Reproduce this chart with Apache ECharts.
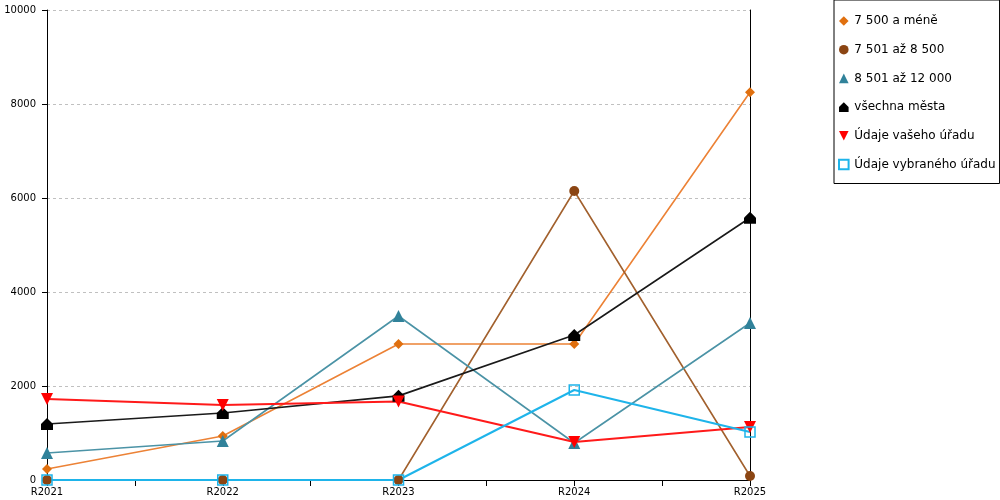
<!DOCTYPE html>
<html lang="cs">
<head>
  <meta charset="UTF-8">
  <script src="https://cdn.jsdelivr.net/npm/echarts@6/dist/echarts.min.js"></script>
  <title>Graf</title>
</head>
<body>
  <div id="chart"></div>
</body>
<style>
  html,body{
    padding: 0;
    margin: 0;
    height: 100vh;
    width: 100vw;
    background: #fff;
  }
  #chart {
    height: 500px;
    width: 1000px;
  }
</style>
</html>
<script>
const years = ['R2021', 'R2022', 'R2023', 'R2024', 'R2025']

const mene7500 = [234, 936, 2894, 2894, 8250]
const od7501 = [0, 0, 0, 6149, 85]
const od8501 = [574, 830, 3489, 787, 3340]
const vsechna = [1191, 1425, 1790, 3085, 5580]
const vasUrad = [1723, 1596, 1670, 809, 1128]
const vybranyUrad = [0, 0, 0, 1915, 1021]

const toPoints = arr => arr.map((v, i) => [i, v])

const house = 'path://M5,0 L10,5 L10,10 L0,10 L0,5 Z'

const option = {
  animation: false,
  textStyle: { fontFamily: 'DejaVu Sans' },
  grid: { left: 47, right: 250, top: 10, bottom: 20 },
  legend: {
    orient: 'vertical',
    left: 834,
    top: 0,
    padding: [15, 4, 13, 4],
    itemGap: 16.7,
    itemWidth: 11,
    itemHeight: 12,
    borderColor: '#000',
    borderWidth: 1,
    lineStyle: { width: 0, opacity: 0 },
    textStyle: { fontSize: 12, color: '#000', fontFamily: 'DejaVu Sans' },
    data: ['7 500 a méně', '7 501 až 8 500', '8 501 až 12 000', 'všechna města', 'Údaje vašeho úřadu', 'Údaje vybraného úřadu']
  },
  xAxis: {
    type: 'value',
    min: 0,
    max: 4,
    interval: 0.5,
    splitLine: { show: false },
    axisLine: { lineStyle: { color: '#000' } },
    axisTick: { length: 6, lineStyle: { color: '#000' } },
    axisLabel: {
      color: '#000',
      fontSize: 10,
      margin: 7,
      showMinLabel: true,
      showMaxLabel: true,
      formatter: v => Number.isInteger(v) ? years[v] : ''
    }
  },
  yAxis: [
    {
      type: 'value',
      min: 0,
      max: 10000,
      interval: 2000,
      axisLine: { show: true, lineStyle: { color: '#000' } },
      axisTick: { show: true, length: 5, lineStyle: { color: '#000' } },
      axisLabel: { color: '#000', fontSize: 10, margin: 11, formatter: v => String(v) },
      splitLine: { show: true, lineStyle: { color: '#c0c0c0', type: [3, 3] } }
    },
    {
      type: 'value',
      min: 0,
      max: 10000,
      position: 'right',
      axisLine: { show: true, lineStyle: { color: '#000' } },
      axisTick: { show: false },
      axisLabel: { show: false },
      splitLine: { show: false }
    }
  ],
  series: [
    {
      name: '7 500 a méně',
      type: 'line',
      data: toPoints(mene7500),
      symbol: 'diamond',
      legendIcon: 'diamond',
      symbolSize: 10,
      itemStyle: { color: '#E0700F' },
      lineStyle: { color: '#EC8236', width: 1.6 }
    },
    {
      name: '7 501 až 8 500',
      type: 'line',
      data: toPoints(od7501),
      symbol: 'circle',
      legendIcon: 'circle',
      symbolSize: 10,
      itemStyle: { color: '#8B4513' },
      lineStyle: { color: '#A2612E', width: 1.6 }
    },
    {
      name: '8 501 až 12 000',
      type: 'line',
      data: toPoints(od8501),
      symbol: 'triangle',
      legendIcon: 'triangle',
      symbolSize: 12,
      itemStyle: { color: '#31829A' },
      lineStyle: { color: '#4B93A6', width: 1.6 }
    },
    {
      name: 'všechna města',
      type: 'line',
      data: toPoints(vsechna),
      symbol: house,
      legendIcon: house,
      symbolSize: 12,
      itemStyle: { color: '#000' },
      lineStyle: { color: '#1a1a1a', width: 1.6 }
    },
    {
      name: 'Údaje vašeho úřadu',
      type: 'line',
      data: toPoints(vasUrad),
      symbol: 'triangle',
      legendIcon: 'path://M0,0 L10,0 L5,10 Z',
      symbolRotate: 180,
      symbolSize: 12,
      itemStyle: { color: '#FF0000' },
      lineStyle: { color: '#FF1A1A', width: 2 }
    },
    {
      name: 'Údaje vybraného úřadu',
      type: 'line',
      data: toPoints(vybranyUrad),
      symbol: 'rect',
      legendIcon: 'rect',
      symbolSize: 10,
      itemStyle: { color: 'rgba(255,255,255,0)', borderColor: '#1EB4EA', borderWidth: 1.5 },
      lineStyle: { color: '#1EB4EA', width: 2 }
    }
  ]
};

const chartDom = document.getElementById('chart');
const myChart = echarts.init(chartDom);
option && myChart.setOption(option);
</script>
